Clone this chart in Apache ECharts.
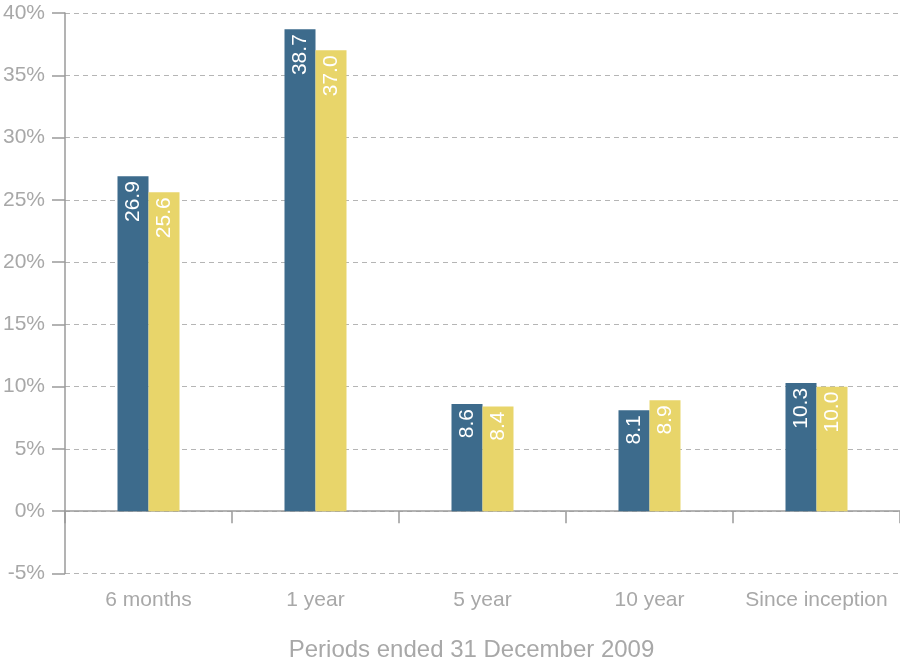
<!DOCTYPE html>
<html><head><meta charset="utf-8">
<script src="https://cdn.jsdelivr.net/npm/echarts@6/dist/echarts.min.js"></script>
<style>html,body{margin:0;padding:0;background:#fff}#c{width:900px;height:663px}</style>
</head><body><div id="c"></div>
<script>
var categories = ['6 months', '1 year', '5 year', '10 year', 'Since inception'];
var fundValues = [26.9, 38.7, 8.6, 8.1, 10.3];
var benchmarkValues = [25.6, 37.0, 8.4, 8.9, 10.0];
var axisTitle = 'Periods ended 31 December 2009';

var FONT = '"Helvetica Neue", "Liberation Sans", Arial, sans-serif';
var GRAY = '#9a9a9a';
var TEXT = '#a8a8a8';
function lbl() {
  return {
    show: true, position: 'insideTop', rotate: 90, align: 'right', verticalAlign: 'middle',
    distance: 5, color: '#fff', fontFamily: FONT, fontSize: 21,
    formatter: function (p) { return p.value.toFixed(1); }
  };
}
var chart = echarts.init(document.getElementById('c'));
chart.setOption({
  animation: false,
  grid: { left: 65, right: 0, top: 13, bottom: 89.5, containLabel: false, outerBoundsMode: 'none' },
  xAxis: [{
    type: 'category', data: categories,
    axisLine: { onZero: true, lineStyle: { color: GRAY, width: 1.5 } },
    axisTick: { show: true, length: 12, lineStyle: { color: GRAY, width: 1.5 } },
    axisLabel: { show: false }
  }, {
    type: 'category', data: categories, position: 'bottom',
    axisLine: { show: false, onZero: false }, axisTick: { show: false },
    axisLabel: { interval: 0, hideOverlap: false, margin: 16, color: TEXT, fontFamily: FONT, fontSize: 21 },
    name: axisTitle, nameLocation: 'middle', nameGap: 65,
    nameTextStyle: { color: TEXT, fontFamily: FONT, fontSize: 24, padding: [0, 22, 0, 0] }
  }],
  yAxis: {
    type: 'value', min: -5, max: 40, interval: 5,
    axisLine: { show: true, lineStyle: { color: GRAY, width: 1.5 } },
    axisTick: { show: true, length: 13, lineStyle: { color: GRAY, width: 1.5 } },
    axisLabel: { margin: 20, color: TEXT, fontFamily: FONT, fontSize: 21,
      formatter: '{value}%' },
    splitLine: { show: true, lineStyle: { color: '#b5b5b5', type: [5, 4], width: 1 } }
  },
  series: [{
    type: 'bar', xAxisIndex: 0, data: fundValues, barWidth: 31, barGap: '0%',
    itemStyle: { color: '#3d6b8c' }, label: lbl()
  }, {
    type: 'bar', xAxisIndex: 0, data: benchmarkValues, barWidth: 31, barGap: '0%',
    itemStyle: { color: '#e8d56a' }, label: lbl()
  }]
});
</script></body></html>
